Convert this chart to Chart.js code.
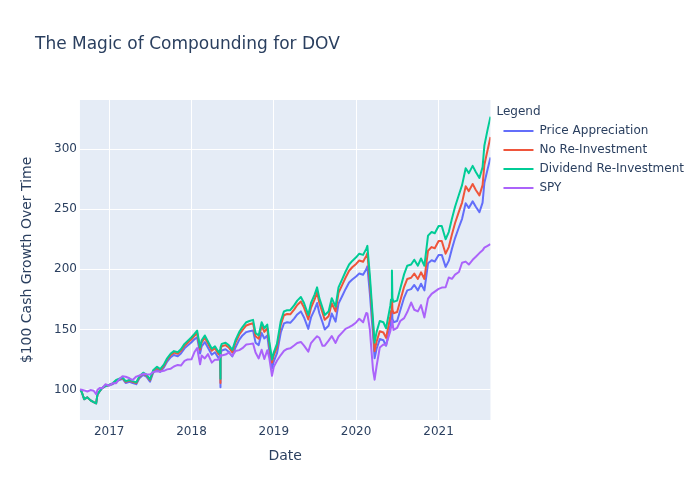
<!DOCTYPE html>
<html>
<head>
<meta charset="utf-8">
<script src="https://cdn.jsdelivr.net/npm/chart.js@4.4.1/dist/chart.umd.min.js"></script>
<style>
html,body{margin:0;padding:0;background:#ffffff;}
#wrap{width:700px;height:500px;position:relative;}
</style>
</head>
<body>
<div id="wrap"><canvas id="chart"></canvas></div>
<script>
// ---- data ----
const dates = [
'2016-08-24','2016-09-01','2016-09-12','2016-09-26','2016-10-10','2016-10-24','2016-11-04','2016-11-10','2016-11-21','2016-12-01','2016-12-15',
'2017-01-01','2017-01-15','2017-02-01','2017-02-15','2017-03-01','2017-03-15','2017-04-01','2017-04-15','2017-05-01','2017-05-15','2017-06-01','2017-06-15',
'2017-07-01','2017-07-15','2017-08-01','2017-08-15','2017-09-01','2017-09-15','2017-10-01','2017-10-15','2017-11-01','2017-11-15','2017-12-01','2017-12-15',
'2018-01-01','2018-01-15','2018-01-26','2018-02-08','2018-02-15','2018-03-01','2018-03-15','2018-04-01','2018-04-15','2018-05-01','2018-05-08','2018-05-09','2018-05-10','2018-05-15',
'2018-06-01','2018-06-15','2018-07-01','2018-07-15','2018-08-01','2018-08-15','2018-09-01','2018-09-15','2018-10-01','2018-10-12','2018-10-26','2018-11-08','2018-11-20','2018-12-03','2018-12-12','2018-12-24',
'2019-01-01','2019-01-15','2019-02-01','2019-02-15','2019-03-01','2019-03-15','2019-04-01','2019-04-15','2019-05-01','2019-05-15','2019-06-03','2019-06-15',
'2019-07-01','2019-07-12','2019-07-22','2019-08-05','2019-08-15','2019-09-01','2019-09-15','2019-10-02','2019-10-15','2019-11-01','2019-11-15','2019-12-01','2019-12-15',
'2020-01-01','2020-01-15','2020-02-01','2020-02-15','2020-02-20','2020-03-02','2020-03-09','2020-03-16','2020-03-23','2020-04-01','2020-04-15','2020-05-01','2020-05-13',
'2020-06-01','2020-06-04','2020-06-08','2020-06-10','2020-06-15','2020-07-01','2020-07-15','2020-08-01','2020-08-15','2020-09-01','2020-09-15','2020-10-01','2020-10-15','2020-10-30',
'2020-11-15','2020-12-01','2020-12-15',
'2021-01-01','2021-01-15','2021-02-01','2021-02-15','2021-03-01','2021-03-15','2021-04-01','2021-04-15','2021-05-01','2021-05-15','2021-06-01','2021-06-15',
'2021-07-01','2021-07-15','2021-07-23','2021-08-06','2021-08-19'
];

const dividendReinvestment = [
100,98,92,93.5,91,89.5,88.5,96,99,101.5,103,
104,105,108,109,110,107,108,107,106,111,114,112.5,
108.5,116,119,117,121,126,130,132,131,133.5,138,140.5,
143.5,146.5,149,135,141,145,140,134,136,131,133,109,135,138,
139,137,133,141,148,152,156,157,158,147,145,156,151,154,140,125,
131,138,157,165,166,166,170,174,177,172,162,172,
179,185,176,168,162,165,176,169,185,192,198,204,207,
210,213,212,217,219.5,195,176,158,139,148,157,156,151,
170,175,199,176,173,174,184,196,203,204,208,203,209,203,
228,231,230,
236,236,225,231,242,252,262,270,284,280,286,281,
276,285,303,316,327
];

const noReinvestment = [
100,98,92,93.5,91,89.5,88.5,96,99,101.5,103,
103.8,104.8,107.6,108.6,109.5,106.5,107.5,106.5,105.5,110.5,113.3,111.8,
107.8,115.2,118.2,116,120,125,128.8,130.7,129.7,132.2,136.5,139,
141.8,144.8,147,133.3,139.3,143,138.2,132.3,134.3,129.3,131.2,105.5,133,136,
137,135,131,139,145.8,149.5,153.3,154.3,155.2,144.3,142.3,153,148,151,137.3,122.5,
128.5,135.3,154,161.8,162.8,162.6,166.5,170.3,173.2,168.2,158.3,168,
175,180.8,172,164,158,161,171.8,165,180.5,187.3,193,198.8,201.7,
204.5,207.3,206.3,211.2,213.5,189.5,171,153.5,132,140,148.5,147.5,143,
161,165.5,181,166.5,163.5,164.5,174,185.5,192,193,196.5,192,197.5,192,
215.5,218.5,217.5,
223.5,223.5,213,218.5,229,238.5,248,255.5,269,265,271,266,
261.5,270,287,299,310
];

const priceAppreciation = [
100,98,92,93.5,91,89.5,88.5,96,99,101.3,102.7,
103.5,104.3,107,108,109,105.5,106.5,105.5,104.5,109.5,112.3,110.7,
106.5,114,116.8,114.7,118.5,123.3,127,128.8,127.7,130,134.3,136.6,
139.3,142,143.5,130,136,139.5,134.8,129,131,126,128,102,129.7,132.5,
133.5,131.5,127.5,135,141.5,145,147.8,148.5,149.2,139,137,147,142.5,145,132,117.5,
123.5,130,147.5,155,156,155.5,159,162.5,165,160,150.5,160,
166.5,172,163.5,156,150,153,163.3,156.5,171.5,178,183.5,189,191.5,
194,196.5,195.5,200,202.5,180,162.5,146,126,134,142,141,136.5,
153.5,158,170,159,156,157,166,176.5,182.5,183.5,187,182.5,188,182.5,
205,207.5,206.5,
212,212,202,207,217,226,235,242,255,251,256.5,252,
247.5,255.5,272,283,293
];

const spy = [
100,99.9,99.3,98.4,99.6,99,96.1,99.9,101.4,101.2,104.4,
103.3,105.2,105.3,108.8,111.1,110.7,109.4,107.9,110.8,111.7,113.1,112.8,
112.6,114.6,115.2,115.1,115.6,116.8,117.4,119.2,120.5,120,123.9,125.1,
125.2,131.5,134.6,121,128.3,125.9,129.5,122.4,124.9,124.9,127.6,128.2,128.8,128.4,
129.1,130.8,128.1,132,132.8,134.4,137.4,137.8,138.3,130.8,125.9,133.1,125.4,132.7,126.2,111.4,
118.9,124,128.7,132.2,133.8,134.3,136.6,138.8,139.6,136.5,131.6,138.7,
142.2,144.3,143.1,136.4,136.5,140.7,144.5,138.8,144.1,147.6,150.5,151.9,153.4,
155.8,158.9,155.9,163.7,163.4,150,133,116.4,108.2,119.6,135,137.5,137,
148.8,152,157.4,156,149.6,151.3,157,159.4,164.5,172.4,166.4,165,170.2,160,
175.6,179.6,181.5,
183.7,184.8,185.1,193.2,192.1,195.6,197.8,205.5,206.4,204,207.9,210.4,
213.5,215.8,218,219.5,221
];

const seriesNames = ['Price Appreciation','No Re-Investment','Dividend Re-Investment','SPY'];
const seriesColors = ['#636efa','#EF553B','#00cc96','#ab63fa'];
const xTickDates = ['2017-01-01','2018-01-01','2019-01-01','2020-01-01','2021-01-01'];
const yTicks = [100,150,200,250,300];
const xRange = ['2016-08-24','2021-08-19'];
const yRange = [74.7, 340.8];

// ---- chart ----
const FONT = 'DejaVu Sans';
const TXT = '#2a3f5f';
Chart.defaults.font.family = FONT;
Chart.defaults.color = TXT;

const toPts = arr => dates.map((d, i) => ({x: Date.parse(d), y: arr[i]}));
const seriesValues = [priceAppreciation, noReinvestment, dividendReinvestment, spy];
const drawOrder = [3, 2, 1, 0];

const plotBg = {
  id: 'plotBg',
  beforeDraw(chart) {
    const {ctx, chartArea: a} = chart;
    ctx.save();
    ctx.fillStyle = '#E5ECF6';
    ctx.fillRect(a.left, a.top, a.right - a.left, a.bottom - a.top);
    ctx.restore();
  }
};
const legendShift = {
  id: 'legendShift',
  afterLayout(chart) {
    const lg = chart.legend;
    if (lg) { lg.left += 6; lg.right += 6; }
  }
};

new Chart(document.getElementById('chart'), {
  type: 'line',
  data: {
    datasets: seriesNames.map((name, i) => ({
      label: name,
      data: toPts(seriesValues[i]),
      borderColor: seriesColors[i],
      backgroundColor: seriesColors[i],
      borderWidth: 2,
      pointRadius: 0,
      tension: 0,
      fill: false,
      borderJoinStyle: 'round',
      order: drawOrder[i]
    }))
  },
  options: {
    responsive: true,
    maintainAspectRatio: false,
    animation: false,
    events: [],
    layout: {padding: {left: 35, right: 12, top: 0, bottom: 35.6}},
    scales: {
      x: {
        type: 'linear',
        min: Date.parse(xRange[0]),
        max: Date.parse(xRange[1]),
        afterBuildTicks: s => { s.ticks = xTickDates.map(d => ({value: Date.parse(d)})); },
        ticks: {
          callback: v => String(new Date(v).getUTCFullYear()),
          font: {size: 12, family: FONT},
          color: TXT,
          padding: 5,
          maxRotation: 0,
          autoSkip: false
        },
        grid: {color: '#ffffff', lineWidth: 1, drawTicks: false},
        border: {display: false},
        title: {display: true, text: 'Date', font: {size: 14, family: FONT}, color: TXT, padding: {top: 3.2, bottom: 0}}
      },
      y: {
        type: 'linear',
        min: yRange[0],
        max: yRange[1],
        afterBuildTicks: s => { s.ticks = yTicks.map(v => ({value: v})); },
        ticks: {font: {size: 12, family: FONT}, color: TXT, padding: 3},
        grid: {color: '#ffffff', lineWidth: 1, drawTicks: false},
        border: {display: false},
        title: {display: true, text: '$100 Cash Growth Over Time', font: {size: 14, family: FONT}, color: TXT, padding: {top: -16, bottom: 15.2}}
      }
    },
    plugins: {
      title: {
        display: true,
        text: 'The Magic of Compounding for DOV',
        align: 'start',
        color: TXT,
        font: {size: 17, family: FONT, weight: 'normal', lineHeight: 1.2},
        padding: {top: 34.8, bottom: 44.8}
      },
      legend: {
        display: true,
        position: 'right',
        align: 'start',
        fullSize: false,
        maxWidth: 220,
        title: {display: true, text: 'Legend', position: 'start', color: TXT,
                font: {size: 12, family: FONT, lineHeight: 1}, padding: {top: 6, bottom: 0}},
        labels: {
          usePointStyle: true,
          pointStyle: 'line',
          pointStyleWidth: 30,
          boxHeight: 12,
          padding: 7,
          color: TXT,
          font: {size: 12, family: FONT},
          sort: (a, b) => a.datasetIndex - b.datasetIndex
        }
      },
      tooltip: {enabled: false}
    }
  },
  plugins: [plotBg, legendShift]
});
</script>
</body>
</html>
